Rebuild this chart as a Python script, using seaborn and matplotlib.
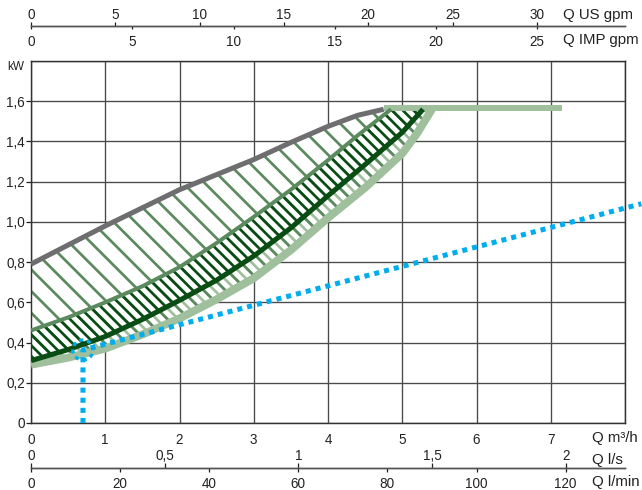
import matplotlib
matplotlib.use('Agg')
import matplotlib.pyplot as plt
from matplotlib.patches import Ellipse
import seaborn as sns
import pandas as pd

# power curves (Q in m3/h, P in kW)
grey_q = [0, 0.5, 1, 1.5, 2, 2.5, 3, 3.5, 4, 4.4, 4.75]
grey_p = [0.79, 0.885, 0.98, 1.07, 1.16, 1.235, 1.31, 1.395, 1.475, 1.53, 1.56]

mid_q = [0, 0.5, 1, 1.5, 2, 2.5, 3, 3.5, 4, 4.4, 4.85]
mid_p = [0.46, 0.525, 0.60, 0.68, 0.775, 0.895, 1.025, 1.16, 1.307, 1.43, 1.56]

dark_q = [0, 0.5, 1, 1.5, 2, 2.5, 3, 3.5, 4, 4.5, 5, 5.28]
dark_p = [0.31, 0.365, 0.43, 0.515, 0.61, 0.71, 0.83, 0.97, 1.13, 1.285, 1.445, 1.56]

light_q = [0, 0.5, 1, 1.5, 2, 2.5, 3, 3.5, 4, 4.5, 5, 5.2, 5.4]
light_p = [0.29, 0.325, 0.37, 0.44, 0.52, 0.615, 0.72, 0.86, 1.02, 1.17, 1.34, 1.44, 1.56]

flat_q = [4.75, 7.15]
flat_p = [1.565, 1.565]

# system line through the duty point
duty_q = 0.7
duty_p = 0.363
sys_q = [0.7, 0.7, 8.22]
sys_p = [0.0, 0.363, 1.09]

y_ticks = [0, 0.2, 0.4, 0.6, 0.8, 1.0, 1.2, 1.4, 1.6]
y_labels = ['0', '0,2', '0,4', '0,6', '0,8', '1,0', '1,2', '1,4', '1,6']
x_ticks = [0, 1, 2, 3, 4, 5, 6, 7]
us_ticks = [0, 5, 10, 15, 20, 25, 30]
imp_ticks = [0, 5, 10, 15, 20, 25]
ls_ticks = [0, 0.5, 1, 1.5, 2]
ls_labels = ['0', '0,5', '1', '1,5', '2']
lmin_ticks = [0, 20, 40, 60, 80, 100, 120]

GREY = '#6e6d70'
MID = '#5b8a5e'
DARK = '#0a4d14'
LIGHT = '#9fbf9d'
BLUE = '#00aeef'
GRID = '#4a4a4a'

sns.set_theme(style='white')
plt.rcParams['font.family'] = ['Liberation Sans Narrow', 'Liberation Sans', 'DejaVu Sans']
plt.rcParams['hatch.linewidth'] = 1.5

W, H, DPI = 642, 490, 130
fig = plt.figure(figsize=(W / DPI, H / DPI), dpi=DPI)
ax = fig.add_axes([31 / W, 67 / H, 594 / W, 362 / H])


def poly(qa, pa, qb, pb):
    return list(qa) + list(qb)[::-1], list(pa) + list(pb)[::-1]


# white backing so the grid does not show through the hatched bands
ux, uy = poly(grey_q, grey_p, mid_q, mid_p)
lx, ly = poly(mid_q, mid_p, light_q, light_p)
tx, ty = poly(mid_q, mid_p, dark_q, dark_p)
bx, by = poly(dark_q, dark_p, light_q, light_p)
ax.fill(ux, uy, facecolor='white', edgecolor='none', zorder=1)
ax.fill(lx, ly, facecolor='white', edgecolor='none', zorder=1)
ax.fill(ux, uy, facecolor='none', edgecolor=MID, hatch='\\\\', linewidth=0, zorder=2)
ax.fill(bx, by, facecolor='none', edgecolor=LIGHT, hatch='\\\\\\\\', linewidth=0, zorder=2)
ax.fill(lx, ly, facecolor='none', edgecolor=MID, hatch='\\\\', linewidth=0, zorder=2.5)
ax.fill(tx, ty, facecolor='none', edgecolor=DARK, hatch='\\\\\\\\', linewidth=0, zorder=2.7)

curves = [
    (light_q, light_p, LIGHT, 4.4),
    (flat_q, flat_p, LIGHT, 3.3),
    (mid_q, mid_p, MID, 2.2),
    (dark_q, dark_p, DARK, 2.8),
    (grey_q, grey_p, GREY, 2.8),
]
for i, (q, p, c, lw) in enumerate(curves):
    df = pd.DataFrame({'q': q, 'p': p})
    sns.lineplot(data=df, x='q', y='p', ax=ax, color=c, linewidth=lw,
                 estimator=None, sort=False, zorder=3 + i * 0.1,
                 solid_capstyle='butt')

sys_df = pd.DataFrame({'q': sys_q, 'p': sys_p})
sns.lineplot(data=sys_df, x='q', y='p', ax=ax, color=BLUE, linewidth=2.8,
             estimator=None, sort=False, zorder=5, dashes=False)
line = ax.lines[-1]
line.set_dashes((1, 1))
line.set_clip_on(False)
ax.add_patch(Ellipse((duty_q, duty_p), 0.27, 0.1, fill=False, edgecolor=BLUE,
                     linewidth=1.8, linestyle=(0, (1.2, 1.2)), zorder=5))

ax.set_xlim(0, 8)
ax.set_ylim(0, 1.8)
ax.set_xticks(range(0, 9))
ax.set_xticklabels([str(v) for v in x_ticks] + [''])
ax.set_yticks(y_ticks + [1.8])
ax.set_yticklabels(y_labels + [''])
ax.grid(True, color=GRID, linewidth=0.75)
ax.set_axisbelow(True)
ax.set_xlabel('')
ax.set_ylabel('')
for s in ax.spines.values():
    s.set_color('#333333')
    s.set_linewidth(0.8)
ax.tick_params(axis='x', length=0, pad=5.5, labelsize=7.5, colors='#222222')
ax.tick_params(axis='y', length=2.8, width=0.7, pad=0.5, labelsize=7.5,
               colors='#222222', left=True)
ax.yaxis.get_major_ticks()[-1].tick1line.set_visible(False)

# extra flow scales
m3h_to_us = 4.403
m3h_to_imp = 3.666
m3h_to_ls = 1 / 3.6
m3h_to_lmin = 1000 / 60
top_pos = (423 - 26) / 362
bot_pos = (423 - 468) / 362


def add_scale(pos, factor, ticks, labels, side, tlen, pad):
    sec = ax.secondary_xaxis(pos, functions=(lambda q, f=factor: q * f,
                                             lambda v, f=factor: v / f))
    sec.set_alignment(side)
    sec.set_xticks(ticks)
    sec.set_xticklabels(labels)
    sec.spines[side].set_color('#555555')
    sec.spines[side].set_linewidth(0.8)
    sec.tick_params(length=tlen, width=0.7, pad=pad, labelsize=7.5,
                    colors='#222222')
    return sec


add_scale(top_pos, m3h_to_us, us_ticks, [str(v) for v in us_ticks], 'top', 2.2, 0.2)
add_scale(top_pos, m3h_to_imp, imp_ticks, [str(v) for v in imp_ticks], 'bottom', 1.8, 3.0)
add_scale(bot_pos, m3h_to_ls, ls_ticks, ls_labels, 'top', 2.5, 0.2)
add_scale(bot_pos, m3h_to_lmin, lmin_ticks, [str(v) for v in lmin_ticks], 'bottom', 2.2, 2.8)

unit_labels = [
    (563, 15, 'Q US gpm'),
    (563, 40, 'Q IMP gpm'),
    (592, 438, 'Q m³/h'),
    (592, 460, 'Q l/s'),
    (592, 482, 'Q l/min'),
]
for px, py, txt in unit_labels:
    fig.text(px / W, 1 - py / H, txt, ha='left', va='center', fontsize=8.3,
             color='#222222')
fig.text(16 / W, 1 - 67 / H, 'kW', ha='center', va='center', fontsize=6.5,
         color='#222222')

fig.savefig('out.png', dpi=DPI)
